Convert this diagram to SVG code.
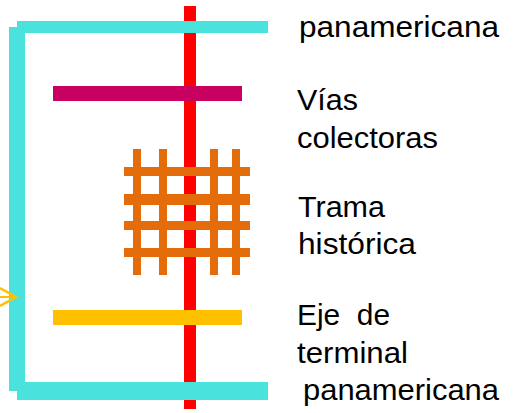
<svg xmlns="http://www.w3.org/2000/svg" width="518" height="413" viewBox="0 0 518 413">
<style>
.lbl{font-family:"Liberation Sans",Arial,sans-serif;font-size:30px;fill:#000;white-space:pre}
.cyan{fill:#4AE2DD}
.orange{fill:#E46C0A}
</style>
<rect width="518" height="413" fill="#fff"/>
<g id="eje-central"><rect x="184" y="6" width="12" height="403" fill="#FF0000"/></g>
<g id="panamericana-anillo">
<rect class="cyan" x="17" y="21" width="251" height="12"/>
<rect class="cyan" x="9" y="27" width="16" height="364"/>
<rect class="cyan" x="17" y="382" width="251" height="18"/>
</g>
<g id="vias-colectoras"><rect x="53" y="86" width="189" height="15" fill="#C8005F"/></g>
<g id="trama-historica">
<rect class="orange" x="133" y="149" width="8" height="126"/>
<rect class="orange" x="159" y="149" width="8" height="126"/>
<rect class="orange" x="210" y="149" width="8" height="126"/>
<rect class="orange" x="232" y="149" width="8" height="126"/>
<rect class="orange" x="124" y="167" width="126" height="9"/>
<rect class="orange" x="124" y="194" width="126" height="11"/>
<rect class="orange" x="124" y="221" width="126" height="9"/>
<rect class="orange" x="124" y="248" width="126" height="9"/>
</g>
<g id="eje-terminal"><rect x="53" y="310" width="189" height="15" fill="#FFC000"/></g>
<g id="connectors">
<polyline points="0,288 16,297 0,306" fill="none" stroke="#FFC000" stroke-width="2.5"/>
<line x1="0" y1="297" x2="15" y2="297" stroke="#FFC000" stroke-width="2"/>
</g>
<g id="labels">
<text class="lbl" x="299" y="37" textLength="200" lengthAdjust="spacingAndGlyphs">panamericana</text>
<text class="lbl" x="297" y="110" textLength="61" lengthAdjust="spacingAndGlyphs">Vías</text>
<text class="lbl" x="297" y="148" textLength="141" lengthAdjust="spacingAndGlyphs">colectoras</text>
<text class="lbl" x="298" y="217" textLength="87" lengthAdjust="spacingAndGlyphs">Trama</text>
<text class="lbl" x="298" y="254" textLength="118" lengthAdjust="spacingAndGlyphs">histórica</text>
<text class="lbl" x="297" y="325" textLength="93" lengthAdjust="spacingAndGlyphs">Eje  de</text>
<text class="lbl" x="297" y="363" textLength="111" lengthAdjust="spacingAndGlyphs">terminal</text>
<text class="lbl" x="303" y="400" textLength="196" lengthAdjust="spacingAndGlyphs">panamericana</text>
</g>
</svg>
